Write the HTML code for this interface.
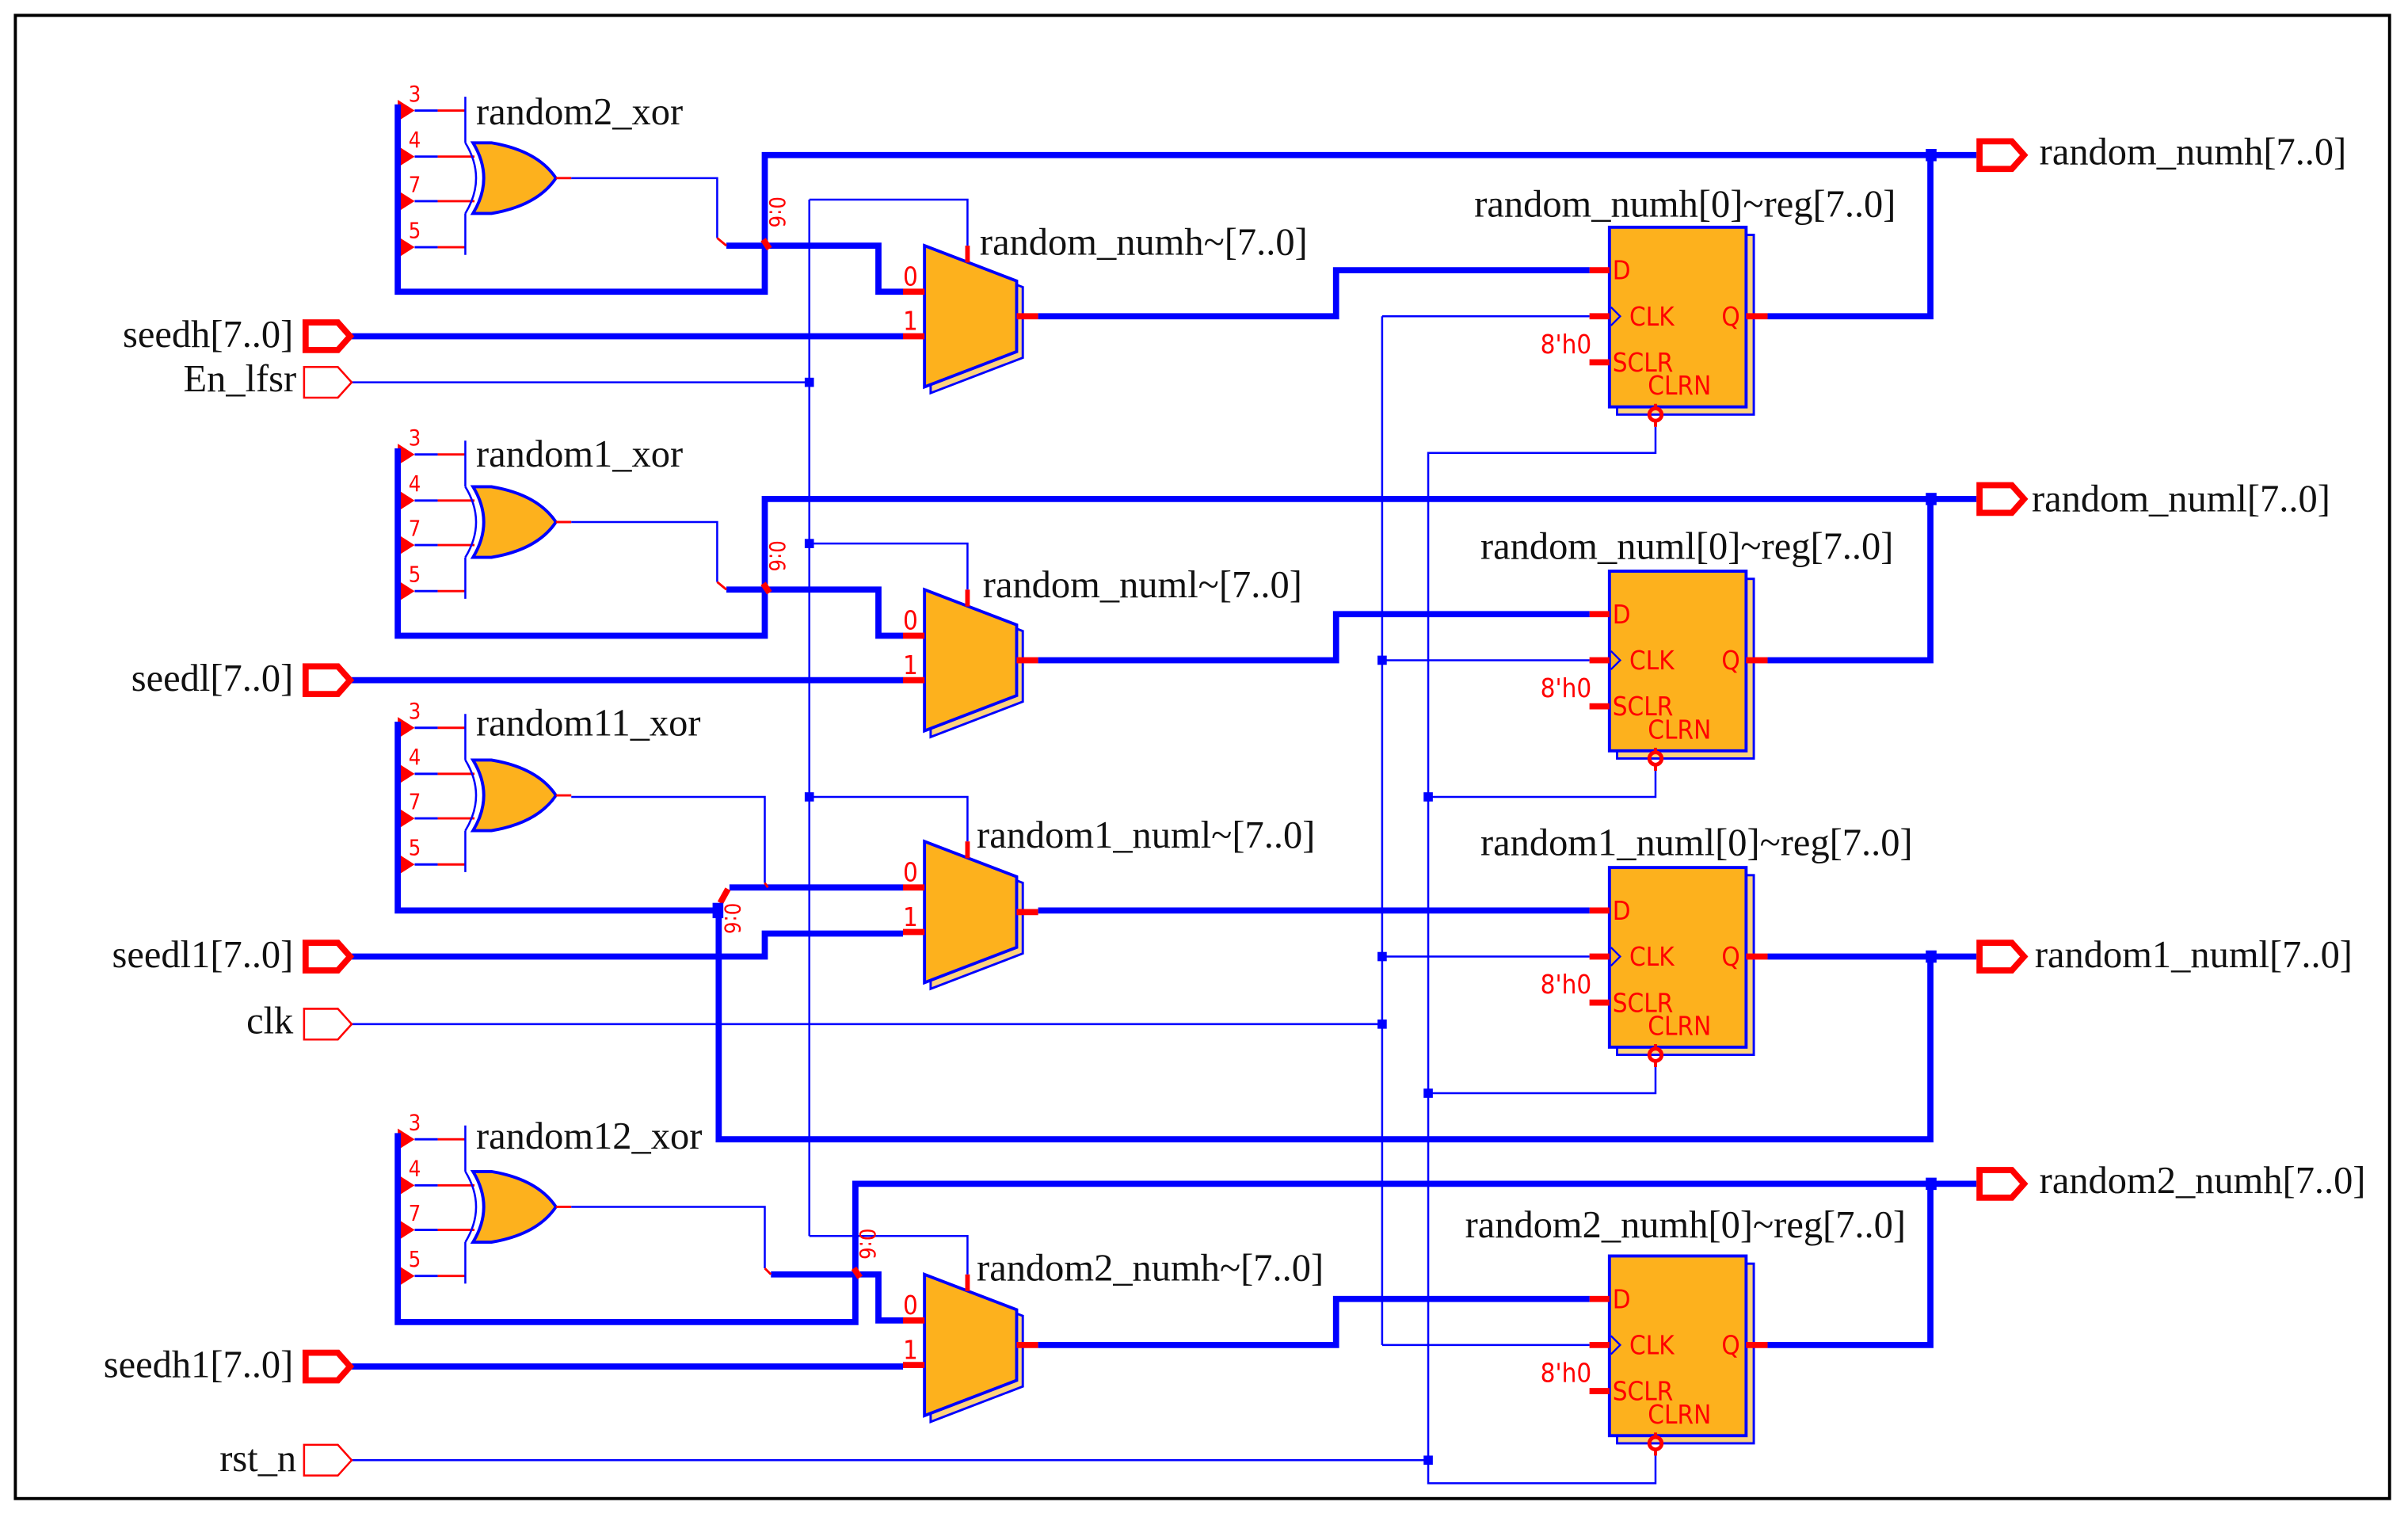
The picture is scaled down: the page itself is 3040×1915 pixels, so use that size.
<!DOCTYPE html>
<html><head><meta charset="utf-8"><style>
html,body{margin:0;padding:0;background:#fff;width:3040px;height:1915px;overflow:hidden}
svg{display:block}
.t{font-family:"Liberation Serif",serif;font-size:25px;fill:#111}
.r{font-family:"DejaVu Sans Condensed","DejaVu Sans",sans-serif;font-size:17px;fill:#f00}
.n{font-family:"DejaVu Sans Condensed","DejaVu Sans",sans-serif;font-size:14px;fill:#f00}
.w{stroke:#0000ff;stroke-width:1.3;fill:none}
.b{stroke:#0000ff;stroke-width:4;fill:none}
</style></head><body>
<svg width="3040" height="1915" viewBox="0 0 1568 988" preserveAspectRatio="none" xmlns="http://www.w3.org/2000/svg">
<rect x="10" y="10" width="1546" height="966" fill="none" stroke="#000" stroke-width="2"/>

<g id="x1">
 <g fill="#f00"><polygon points="259,65 270,72 259,79"/><polygon points="259,95 270,102 259,109"/><polygon points="259,124 270,131 259,138"/><polygon points="259,154 270,161 259,168"/></g>
 <g stroke="#00f" stroke-width="1.5"><line x1="270" y1="72" x2="285" y2="72"/><line x1="270" y1="102" x2="285" y2="102"/><line x1="270" y1="131" x2="285" y2="131"/><line x1="270" y1="161" x2="285" y2="161"/></g>
 <g stroke="#f00" stroke-width="1.5"><line x1="285" y1="72" x2="303" y2="72"/><line x1="285" y1="102" x2="309" y2="102"/><line x1="285" y1="131" x2="309" y2="131"/><line x1="285" y1="161" x2="303" y2="161"/></g>
 <text class="n" x="266" y="66">3</text><text class="n" x="266" y="96">4</text><text class="n" x="266" y="125">7</text><text class="n" x="266" y="155">5</text>
 <path class="w" d="M303,63 V93 M303,139 V166 M303,93 Q317,116 303,139"/>
 <path d="M308,93 L320,93 Q350,98 362,116 Q350,134 320,139 L308,139 Q322,116 308,93 Z" fill="#fdb11d" stroke="#00f" stroke-width="2"/>
 <line x1="362" y1="116" x2="372" y2="116" stroke="#f00" stroke-width="1.5"/>
</g>
<text class="t" x="310" y="81">random2_xor</text>
<g transform="translate(0,224)"><use href="#x1"/></g>
<text class="t" x="310" y="304">random1_xor</text>
<g transform="translate(0,402)"><use href="#x1"/></g>
<text class="t" x="310" y="479">random11_xor</text>
<g transform="translate(0,670)"><use href="#x1"/></g>
<text class="t" x="310" y="748">random12_xor</text>

<g id="m1">
 <polygon points="606,164 666,187 666,233 606,256" fill="#fdd27f" stroke="#00f" stroke-width="1.5"/>
 <polygon points="602,160 662,183 662,229 602,252" fill="#fdb11d" stroke="#00f" stroke-width="2"/>
 <g stroke="#f00" stroke-width="4"><line x1="588" y1="190" x2="602" y2="190"/><line x1="588" y1="219" x2="602" y2="219"/><line x1="662" y1="206" x2="676" y2="206"/></g>
 <line x1="630" y1="160" x2="630" y2="171" stroke="#f00" stroke-width="3"/>
 <text class="r" x="588" y="186">0</text><text class="r" x="588" y="215">1</text>
</g>
<g transform="translate(0,224)"><use href="#m1"/></g>
<g transform="translate(0,388)"><use href="#m1"/></g>
<g transform="translate(0,670)"><use href="#m1"/></g>
<text class="t" x="638" y="166">random_numh~[7..0]</text>
<text class="t" x="640" y="389">random_numl~[7..0]</text>
<text class="t" x="636" y="552">random1_numl~[7..0]</text>
<text class="t" x="636" y="834">random2_numh~[7..0]</text>

<g id="r1">
 <rect x="1053" y="153" width="89" height="117" fill="#fdd27f" stroke="#00f" stroke-width="1.5"/>
 <rect x="1048" y="148" width="89" height="117" fill="#fdb11d" stroke="#00f" stroke-width="2"/>
 <g stroke="#f00" stroke-width="4"><line x1="1035" y1="176" x2="1048" y2="176"/><line x1="1035" y1="206" x2="1048" y2="206"/><line x1="1035" y1="236" x2="1048" y2="236"/><line x1="1137" y1="206" x2="1151" y2="206"/></g>
 <path d="M1049,200 L1055,206 L1049,212" fill="none" stroke="#00f" stroke-width="1.2"/>
 <text class="r" x="1050" y="182">D</text>
 <text class="r" x="1061" y="212">CLK</text>
 <text class="r" x="1121" y="212">Q</text>
 <text class="r" x="1050" y="242">SCLR</text>
 <text class="r" x="1073" y="257">CLRN</text>
 <text class="r" x="1003" y="230">8'h0</text>
 <circle cx="1078" cy="270" r="4" fill="none" stroke="#f00" stroke-width="2.5"/>
 <line x1="1078" y1="263" x2="1078" y2="266" stroke="#f00" stroke-width="2"/>
 <line x1="1078" y1="274" x2="1078" y2="278" stroke="#f00" stroke-width="2"/>
</g>
<g transform="translate(0,224)"><use href="#r1"/></g>
<g transform="translate(0,417)"><use href="#r1"/></g>
<g transform="translate(0,670)"><use href="#r1"/></g>
<text class="t" x="960" y="141">random_numh[0]~reg[7..0]</text>
<text class="t" x="964" y="364">random_numl[0]~reg[7..0]</text>
<text class="t" x="964" y="557">random1_numl[0]~reg[7..0]</text>
<text class="t" x="954" y="806">random2_numh[0]~reg[7..0]</text>

<g class="b">
<path d="M259,68 V190 H498 V101 H1287"/>
<path d="M473,160 H572 V190 H588"/>
<path d="M229,219 H588"/>
<path d="M676,206 H870 V176 H1035"/>
<path d="M1151,206 H1257 V101"/>
<path d="M259,292 V414 H498 V325 H1287"/>
<path d="M473,384 H572 V414 H588"/>
<path d="M229,443 H588"/>
<path d="M676,430 H870 V400 H1035"/>
<path d="M1151,430 H1257 V325"/>
<path d="M259,470 V593 H468 V742 H1257 V623"/>
<path d="M475,578 H588"/>
<path d="M229,623 H498 V608 H588"/>
<path d="M676,593 H1035"/>
<path d="M1151,623 H1287"/>
<path d="M259,738 V861 H557 V771 H1287"/>
<path d="M502,830 H557"/>
<path d="M560,830 H572 V860 H588"/>
<path d="M229,890 H588"/>
<path d="M676,876 H870 V846 H1035"/>
<path d="M1151,876 H1257 V771"/>
</g>
<g class="w">
<path d="M372,116 H467 V155"/>
<path d="M372,340 H467 V379"/>
<path d="M372,519 H498 V575"/>
<path d="M372,786 H498 V826"/>
<path d="M229,249 H527"/>
<path d="M527,130 V805"/>
<path d="M527,130 H630 V160"/>
<path d="M527,354 H630 V384"/>
<path d="M527,519 H630 V548"/>
<path d="M527,805 H630 V830"/>
<path d="M900,206 V876"/>
<path d="M900,206 H1035 M900,430 H1035 M900,623 H1035 M900,876 H1035"/>
<path d="M229,667 H900"/>
<path d="M1078,278 V295 H930 V966 H1078 V948"/>
<path d="M1078,502 V519 H930"/>
<path d="M1078,695 V712 H930"/>
<path d="M229,951 H930"/>
</g>
<g stroke="#f00" stroke-width="1.5">
<line x1="467" y1="155" x2="473" y2="160"/><line x1="467" y1="379" x2="473" y2="384"/>
<line x1="498" y1="826" x2="502" y2="830"/><line x1="498" y1="575" x2="500" y2="578"/>
</g>
<g stroke="#f00" stroke-width="4">
<line x1="497" y1="156" x2="501" y2="162"/><line x1="497" y1="380" x2="501" y2="386"/>
<line x1="469" y1="588" x2="474" y2="579"/><line x1="556" y1="826" x2="560" y2="832"/>
</g>
<g class="n">
<text transform="translate(501,128) rotate(90)">0:6</text>
<text transform="translate(501,352) rotate(90)">0:6</text>
<text transform="translate(472,588) rotate(90)">0:6</text>
<text transform="translate(560,800) rotate(90)">0:6</text>
</g>
<g fill="#00f">
<rect x="524" y="246" width="6" height="6"/><rect x="1254" y="97" width="7" height="8"/>
<rect x="524" y="351" width="6" height="6"/><rect x="1254" y="321" width="7" height="8"/>
<rect x="897" y="427" width="6" height="6"/><rect x="524" y="516" width="6" height="6"/>
<rect x="927" y="516" width="6" height="6"/><rect x="897" y="620" width="6" height="6"/>
<rect x="1254" y="619" width="7" height="8"/><rect x="897" y="664" width="6" height="6"/>
<rect x="927" y="709" width="6" height="6"/><rect x="1254" y="767" width="7" height="8"/>
<rect x="927" y="948" width="6" height="6"/><rect x="464" y="588" width="7" height="10"/>
</g>
<g fill="none" stroke="#f00" stroke-width="4">
<polygon points="199,210 220,210 228,219 220,228 199,228"/>
<polygon points="199,434 220,434 228,443 220,452 199,452"/>
<polygon points="199,614 220,614 228,623 220,632 199,632"/>
<polygon points="199,881 220,881 228,890 220,899 199,899"/>
<polygon points="1289,92 1310,92 1318,101 1310,110 1289,110"/>
<polygon points="1289,316 1310,316 1318,325 1310,334 1289,334"/>
<polygon points="1289,614 1310,614 1318,623 1310,632 1289,632"/>
<polygon points="1289,762 1310,762 1318,771 1310,780 1289,780"/>
</g>
<g fill="none" stroke="#f00" stroke-width="1.3">
<polygon points="198,239 220,239 229,249 220,259 198,259"/>
<polygon points="198,657 220,657 229,667 220,677 198,677"/>
<polygon points="198,941 220,941 229,951 220,961 198,961"/>
</g>
<g class="t" text-anchor="end">
<text x="191" y="226">seedh[7..0]</text>
<text x="193" y="255">En_lfsr</text>
<text x="191" y="450">seedl[7..0]</text>
<text x="191" y="630">seedl1[7..0]</text>
<text x="191" y="673">clk</text>
<text x="191" y="897">seedh1[7..0]</text>
<text x="193" y="958">rst_n</text>
</g>
<g class="t">
<text x="1328" y="107">random_numh[7..0]</text>
<text x="1323" y="333">random_numl[7..0]</text>
<text x="1325" y="630">random1_numl[7..0]</text>
<text x="1328" y="777">random2_numh[7..0]</text>
</g>
</svg>
</body></html>
